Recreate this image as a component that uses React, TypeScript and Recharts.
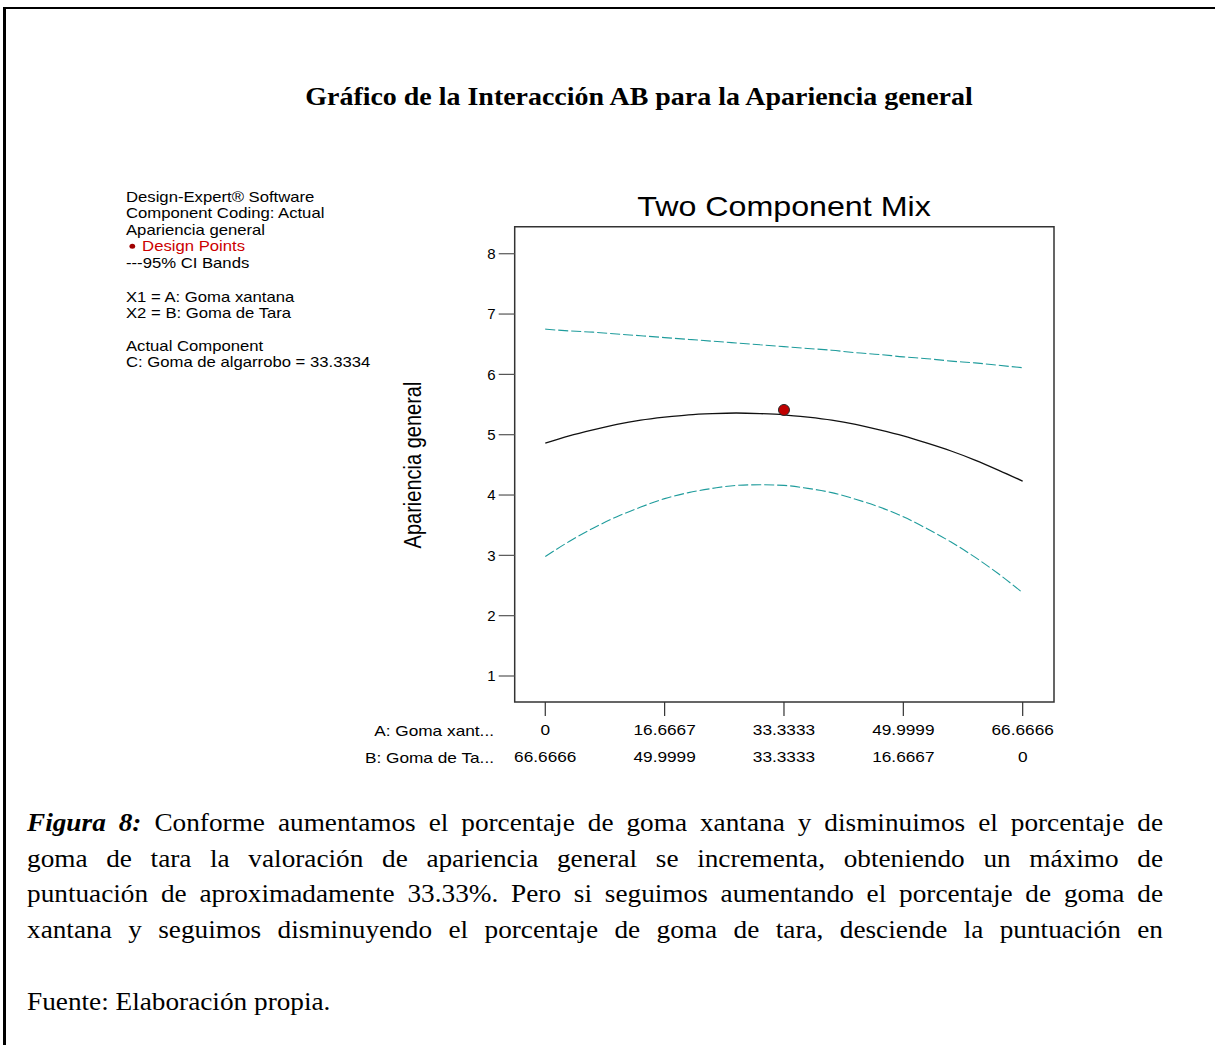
import React from 'react';
import { ComposedChart, Line, Scatter, XAxis, YAxis, ReferenceArea } from 'recharts';

// A: Goma xantana (%) along the mixture axis
const xValues = [0, 3.3333, 6.6667, 10, 13.3333, 16.6667, 20, 23.3333, 26.6667, 30, 33.3333, 36.6667, 40, 43.3333, 46.6667, 50, 53.3333, 56.6667, 60, 63.3333, 66.6666];
const prediction = [4.86, 4.98, 5.08, 5.17, 5.24, 5.29, 5.33, 5.35, 5.36, 5.35, 5.33, 5.29, 5.24, 5.17, 5.08, 4.98, 4.86, 4.73, 4.58, 4.41, 4.23];
const upperCI = [6.75, 6.72, 6.7, 6.67, 6.64, 6.61, 6.58, 6.55, 6.52, 6.49, 6.46, 6.43, 6.4, 6.36, 6.33, 6.29, 6.26, 6.22, 6.19, 6.15, 6.11];
const lowerCI = [2.98, 3.23, 3.45, 3.64, 3.8, 3.94, 4.04, 4.11, 4.16, 4.17, 4.16, 4.11, 4.04, 3.93, 3.8, 3.64, 3.44, 3.22, 2.97, 2.69, 2.38];

const designPoints = [{ a: 33.3333, value: 5.41 }];

const xTicks = [0, 16.6667, 33.3333, 49.9999, 66.6666];
const aLabels = ['0', '16.6667', '33.3333', '49.9999', '66.6666'];
const bLabels = ['66.6666', '49.9999', '33.3333', '16.6667', '0'];
const yTicks = [1, 2, 3, 4, 5, 6, 7, 8];
const xDomain = [-4.27, 71.04];
const yDomain = [0.569, 8.448];

const infoLines = [
  'Design-Expert® Software',
  'Component Coding: Actual',
  'Apariencia general',
];
const factorLines = ['X1 = A: Goma xantana', 'X2 = B: Goma de Tara'];
const actualLines = ['Actual Component', 'C: Goma de algarrobo = 33.3334'];

const captionRest = [
  'goma de tara la valoración de apariencia general se incrementa, obteniendo un máximo de',
  'puntuación de aproximadamente 33.33%. Pero si seguimos aumentando el porcentaje de goma de',
  'xantana y seguimos disminuyendo el porcentaje de goma de tara, desciende la puntuación en',
];

const chartData = xValues.map((a, i) => ({
  a,
  fit: prediction[i],
  upper: upperCI[i],
  lower: lowerCI[i],
}));

const SX = 1.15;
const CAPTION_SX = 1.09;
const sans = '"Liberation Sans", Arial, sans-serif';
const serif = '"Liberation Serif", "Times New Roman", serif';
const teal = '#1f9c9c';

type LabelProps = {
  x: number;
  y: number;
  size: number;
  anchor?: 'start' | 'middle' | 'end';
  family?: string;
  weight?: number | string;
  color?: string;
  stretch?: number;
  children: React.ReactNode;
};

const Label = ({ x, y, size, anchor = 'start', family = sans, weight, color = '#000', stretch = SX, children }: LabelProps) => {
  const tx = anchor === 'middle' ? '-50%' : anchor === 'end' ? '-100%' : '0';
  const origin = anchor === 'middle' ? 'center' : anchor === 'end' ? 'right' : 'left';
  return (
    <div
      style={{
        position: 'absolute',
        left: x,
        top: y,
        fontSize: size,
        lineHeight: 1,
        fontFamily: family,
        fontWeight: weight,
        color,
        whiteSpace: 'nowrap',
        transform: `translate(${tx},-50%) scaleX(${stretch})`,
        transformOrigin: `${origin} center`,
      }}
    >
      {children}
    </div>
  );
};

const CaptionLine = ({ y, children }: { y: number; children: React.ReactNode }) => (
  <div
    style={{
      position: 'absolute',
      left: 27,
      top: y,
      width: 1136 / CAPTION_SX,
      fontFamily: serif,
      fontSize: 25,
      lineHeight: 1,
      textAlign: 'justify',
      textAlignLast: 'justify',
      transform: `translateY(-50%) scaleX(${CAPTION_SX})`,
      transformOrigin: 'left center',
    }}
  >
    {children}
  </div>
);

const renderXTick = (props: any) => {
  const { x, y, payload } = props;
  const i = xTicks.indexOf(payload.value);
  return (
    <g transform={`translate(${x},${y})`}>
      <text transform={`scale(${SX},1)`} y={17.4} textAnchor="middle" fontSize={15} fontFamily={sans} fill="#000">
        {aLabels[i]}
      </text>
      <text transform={`scale(${SX},1)`} y={44.4} textAnchor="middle" fontSize={15} fontFamily={sans} fill="#000">
        {bLabels[i]}
      </text>
    </g>
  );
};

const renderYTick = (props: any) => {
  const { x, y, payload } = props;
  return (
    <text x={x} y={y} dy={5.4} textAnchor="end" fontSize={15} fontFamily={sans} fill="#000">
      {payload.value}
    </text>
  );
};

const renderPoint = (props: any) => (
  <circle cx={props.cx} cy={props.cy} r={5.5} fill="#c00000" stroke="#2a2a2a" strokeWidth={1} />
);

export default function App() {
  return (
    <div
      style={{
        position: 'absolute',
        left: 0,
        top: 0,
        width: 1215,
        height: 1045,
        background: '#fff',
        overflow: 'hidden',
      }}
    >
      {/* page frame */}
      <div
        style={{
          position: 'absolute',
          left: 3,
          top: 7,
          width: 1230,
          height: 1060,
          borderTop: '2.5px solid #000',
          borderLeft: '3px solid #000',
        }}
      />

      <ComposedChart
        width={1215}
        height={1045}
        data={chartData}
        margin={{ top: 226.7, right: 161, bottom: 283, left: 0 }}
      >
        <XAxis
          type="number"
          dataKey="a"
          domain={xDomain}
          ticks={xTicks}
          interval={0}
          allowDataOverflow
          height={60}
          axisLine={false}
          tickSize={14}
          tickLine={{ stroke: '#333', strokeWidth: 1.2 }}
          tick={renderXTick}
        />
        <YAxis
          type="number"
          domain={yDomain}
          ticks={yTicks}
          interval={0}
          allowDataOverflow
          width={514.7}
          axisLine={false}
          tickSize={16}
          tickMargin={3}
          tickLine={{ stroke: '#555', strokeWidth: 1.2 }}
          tick={renderYTick}
        />
        <ReferenceArea
          x1={xDomain[0]}
          x2={xDomain[1]}
          y1={yDomain[0]}
          y2={yDomain[1]}
          fill="none"
          stroke="#333"
          strokeWidth={1.5}
          ifOverflow="visible"
        />
        <Line
          type="monotone"
          dataKey="upper"
          stroke={teal}
          strokeWidth={1.1}
          strokeDasharray="10 3"
          dot={false}
          activeDot={false}
          isAnimationActive={false}
        />
        <Line
          type="monotone"
          dataKey="lower"
          stroke={teal}
          strokeWidth={1.1}
          strokeDasharray="10 3"
          dot={false}
          activeDot={false}
          isAnimationActive={false}
        />
        <Line
          type="monotone"
          dataKey="fit"
          stroke="#111"
          strokeWidth={1.3}
          dot={false}
          activeDot={false}
          isAnimationActive={false}
        />
        <Scatter data={designPoints} dataKey="value" shape={renderPoint} isAnimationActive={false} />
      </ComposedChart>

      {/* heading */}
      <Label x={639} y={97} size={24.3} anchor="middle" family={serif} weight="bold">
        Gráfico de la Interacción AB para la Apariencia general
      </Label>

      {/* software notes on the left */}
      {infoLines.map((t, i) => (
        <Label key={t} x={126} y={196.5 + i * 16.6} size={14.5}>
          {t}
        </Label>
      ))}
      <Label x={126} y={246} size={14.5} color="#cc0000">
        <span
          style={{
            display: 'inline-block',
            width: 5,
            height: 5,
            borderRadius: '50%',
            background: '#a00000',
            verticalAlign: 'middle',
            margin: '0 6px 2px 3px',
          }}
        />
        Design Points
      </Label>
      <Label x={126} y={262.7} size={14.5}>
        ---95% CI Bands
      </Label>
      {factorLines.map((t, i) => (
        <Label key={t} x={126} y={296.7 + i * 16.6} size={14.5}>
          {t}
        </Label>
      ))}
      {actualLines.map((t, i) => (
        <Label key={t} x={126} y={345.7 + i * 16.6} size={14.5}>
          {t}
        </Label>
      ))}

      {/* plot title and axis text */}
      <Label x={784.4} y={207} size={28} anchor="middle">
        Two Component Mix
      </Label>
      <div
        style={{
          position: 'absolute',
          left: 413,
          top: 465,
          fontSize: 20,
          lineHeight: 1,
          fontFamily: sans,
          whiteSpace: 'nowrap',
          transform: `translate(-50%,-50%) scaleX(${SX}) rotate(-90deg)`,
          transformOrigin: 'center center',
        }}
      >
        Apariencia general
      </div>
      <Label x={494} y={730} size={15} anchor="end">
        A: Goma xant...
      </Label>
      <Label x={494} y={757} size={15} anchor="end">
        B: Goma de Ta...
      </Label>

      {/* figure caption */}
      <CaptionLine y={822}>
        <b>
          <i>Figura 8:</i>
        </b>{' '}
        Conforme aumentamos el porcentaje de goma xantana y disminuimos el porcentaje de
      </CaptionLine>
      {captionRest.map((t, i) => (
        <CaptionLine key={i} y={857.5 + i * 35.5}>
          {t}
        </CaptionLine>
      ))}
      <Label x={27} y={1001} size={25} family={serif} stretch={CAPTION_SX}>
        Fuente: Elaboración propia.
      </Label>
    </div>
  );
}
